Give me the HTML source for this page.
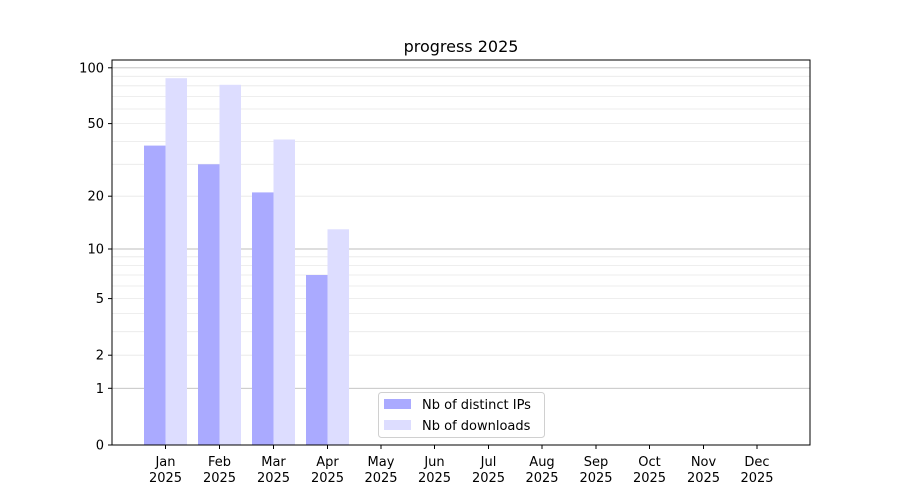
<!DOCTYPE html>
<html><head><meta charset="utf-8"><style>body{margin:0;background:#fff}svg{display:block}text{font-family:"DejaVu Sans","Liberation Sans",sans-serif;fill:#000}</style></head>
<body>
<svg width="900" height="500" viewBox="0 0 900 500" xmlns="http://www.w3.org/2000/svg">
<rect width="900" height="500" fill="#fff"/>
<g stroke="#e8e8e8" stroke-width="0.8">
<line x1="112" x2="810" y1="355.2" y2="355.2"/><line x1="112" x2="810" y1="331.7" y2="331.7"/><line x1="112" x2="810" y1="313.5" y2="313.5"/><line x1="112" x2="810" y1="298.6" y2="298.6"/><line x1="112" x2="810" y1="286" y2="286"/><line x1="112" x2="810" y1="275" y2="275"/><line x1="112" x2="810" y1="265.4" y2="265.4"/><line x1="112" x2="810" y1="256.8" y2="256.8"/>
<line x1="112" x2="810" y1="196.2" y2="196.2"/><line x1="112" x2="810" y1="164.3" y2="164.3"/><line x1="112" x2="810" y1="141.5" y2="141.5"/><line x1="112" x2="810" y1="123.6" y2="123.6"/><line x1="112" x2="810" y1="109" y2="109"/><line x1="112" x2="810" y1="96.6" y2="96.6"/><line x1="112" x2="810" y1="85.8" y2="85.8"/><line x1="112" x2="810" y1="76.3" y2="76.3"/>
</g>
<g stroke="#bdbdbd" stroke-width="0.9">
<line x1="112" x2="810" y1="388.3" y2="388.3"/><line x1="112" x2="810" y1="249" y2="249"/><line x1="112" x2="810" y1="67.8" y2="67.8"/>
</g>
<g fill="#aaaaff">
<rect x="144" y="145.6" width="21.5" height="299.4"/><rect x="198" y="164.3" width="21.5" height="280.7"/><rect x="252" y="192.4" width="21.5" height="252.6"/><rect x="306" y="275" width="21.5" height="170"/>
</g>
<g fill="#ddddff">
<rect x="165.5" y="78.2" width="21.5" height="366.8"/><rect x="219.5" y="84.8" width="21.5" height="360.2"/><rect x="273.5" y="139.5" width="21.5" height="305.5"/><rect x="327.5" y="229.3" width="21.5" height="215.7"/>
</g>
<rect x="112" y="60" width="698" height="385" fill="none" stroke="#000" stroke-width="1"/>
<g stroke="#000" stroke-width="1">
<line x1="108" x2="112" y1="445" y2="445"/><line x1="108" x2="112" y1="388.3" y2="388.3"/><line x1="108" x2="112" y1="355.2" y2="355.2"/><line x1="108" x2="112" y1="298.6" y2="298.6"/><line x1="108" x2="112" y1="249" y2="249"/><line x1="108" x2="112" y1="196.2" y2="196.2"/><line x1="108" x2="112" y1="123.6" y2="123.6"/><line x1="108" x2="112" y1="67.8" y2="67.8"/>
<line x1="165.5" x2="165.5" y1="445" y2="449"/><line x1="219.5" x2="219.5" y1="445" y2="449"/><line x1="273.5" x2="273.5" y1="445" y2="449"/><line x1="327.5" x2="327.5" y1="445" y2="449"/><line x1="381" x2="381" y1="445" y2="449"/><line x1="434.5" x2="434.5" y1="445" y2="449"/><line x1="488.5" x2="488.5" y1="445" y2="449"/><line x1="542" x2="542" y1="445" y2="449"/><line x1="596" x2="596" y1="445" y2="449"/><line x1="649.5" x2="649.5" y1="445" y2="449"/><line x1="703.5" x2="703.5" y1="445" y2="449"/><line x1="757" x2="757" y1="445" y2="449"/>
</g>
<g font-size="13" text-anchor="end">
<text x="104" y="449.5">0</text><text x="104" y="392.8">1</text><text x="104" y="359.7">2</text><text x="104" y="303.1">5</text><text x="104" y="253.5">10</text><text x="104" y="200.7">20</text><text x="104" y="128.1">50</text><text x="104" y="72.3">100</text>
</g>
<g font-size="13" text-anchor="middle">
<text x="165.5" y="466">Jan</text><text x="165.5" y="482">2025</text>
<text x="219.5" y="466">Feb</text><text x="219.5" y="482">2025</text>
<text x="273.5" y="466">Mar</text><text x="273.5" y="482">2025</text>
<text x="327.5" y="466">Apr</text><text x="327.5" y="482">2025</text>
<text x="381" y="466">May</text><text x="381" y="482">2025</text>
<text x="434.5" y="466">Jun</text><text x="434.5" y="482">2025</text>
<text x="488.5" y="466">Jul</text><text x="488.5" y="482">2025</text>
<text x="542" y="466">Aug</text><text x="542" y="482">2025</text>
<text x="596" y="466">Sep</text><text x="596" y="482">2025</text>
<text x="649.5" y="466">Oct</text><text x="649.5" y="482">2025</text>
<text x="703.5" y="466">Nov</text><text x="703.5" y="482">2025</text>
<text x="757" y="466">Dec</text><text x="757" y="482">2025</text>
<text x="461" y="52" font-size="16">progress 2025</text>
</g>
<rect x="378.5" y="392.5" width="166" height="45" rx="3" fill="#fff" fill-opacity="0.8" stroke="#d0d0d0"/>
<rect x="384" y="399" width="27" height="10" fill="#aaaaff"/>
<rect x="384" y="420" width="27" height="10" fill="#ddddff"/>
<g font-size="13"><text x="422" y="409">Nb of distinct IPs</text><text x="422" y="430">Nb of downloads</text></g>
</svg>
</body></html>
